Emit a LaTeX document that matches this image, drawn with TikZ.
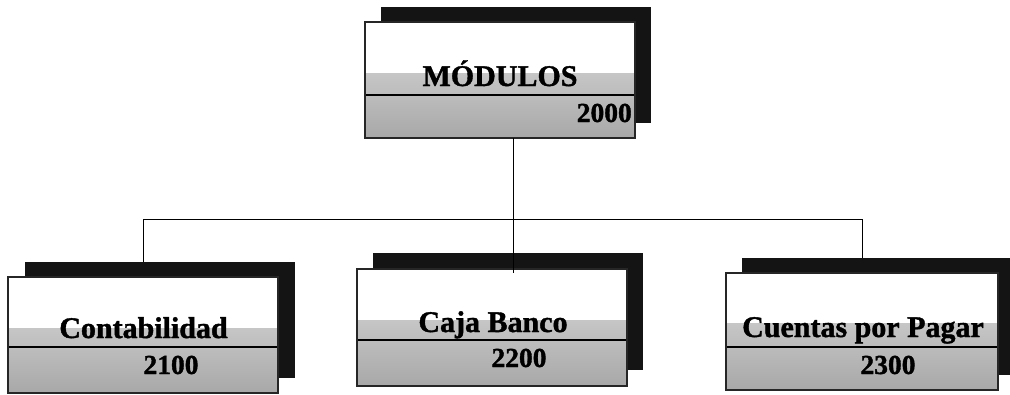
\documentclass[tikz,border=0pt]{standalone}
\usepackage{fontspec}
\setmainfont{Liberation Serif}[BoldFeatures={FakeBold=1.3}]
\usetikzlibrary{calc}
\definecolor{grayA}{HTML}{C6C6C6}
\definecolor{grayB}{HTML}{A8A8A8}
\definecolor{shadowc}{HTML}{141414}
\tikzset{
  shadowbox/.style={fill=shadowc, draw=none, inner sep=0pt, outer sep=0pt},
  frontbox/.style={fill=white, draw=none, inner sep=0pt, outer sep=0pt},
  divider/.style={line width=1.4pt, black},
  border/.style={line width=1.3pt, black!85},
  conn/.style={line width=1pt, black},
  title/.style={font=\fontsize{30}{32}\selectfont\bfseries, inner sep=0pt, anchor=base},
  code/.style={font=\fontsize{27.5}{29}\selectfont\bfseries, inner sep=0pt, anchor=base},
}
\newcommand{\orgbox}[9]{%
  \node[shadowbox, minimum width=#4pt, minimum height=#5pt] (#1s) at (#2+#8,#3+#9) {};
  \node[frontbox, minimum width=#4pt, minimum height=#5pt] (#1) at (#2,#3) {};
  \shade[top color=grayA, bottom color=grayB] (#1.west |- 0,#6) rectangle (#1.south east);
  \draw[divider] (#1.west |- 0,#7) -- (#1.east |- 0,#7);
  \draw[border] (#1.north west) rectangle (#1.south east);
}
\begin{document}
\begin{tikzpicture}[x=1pt,y=-1pt]
\useasboundingbox (0,0) rectangle (1010,394);
\orgbox{m}{500}{80}{270}{116}{73}{95}{16}{-15}
\orgbox{ca}{143}{335}{270}{116}{328}{347}{17}{-15}
\orgbox{cb}{492}{327.5}{270}{117}{320}{340}{16}{-16}
\orgbox{cc}{862}{331.5}{272}{117}{323}{347}{16}{-15}
% texts
\node[title] (mt) at (500,86) {MÓDULOS};
\node[code, anchor=base east] (mn) at (632,122) {2000};
\node[title] (cat) at (143.5,338) {Contabilidad};
\node[code] (can) at (171,374) {2100};
\node[title] (cbt) at (493,332) {Caja Banco};
\node[code] (cbn) at (519,367) {2200};
\node[title] (cct) at (863,337) {Cuentas por Pagar};
\node[code] (ccn) at (888,374) {2300};
% connectors
\coordinate (j) at (513,219);
\draw[conn] (j |- m.south) -- (j);
\draw[conn] (ca |- j) -- (cc |- j);
\draw[conn] (ca |- j) -- (ca |- cas.north);
\draw[conn] (j) -- ($(j |- cb.north)+(0,4)$);
\draw[conn] (cc |- j) -- (cc |- ccs.north);
\end{tikzpicture}
\end{document}
